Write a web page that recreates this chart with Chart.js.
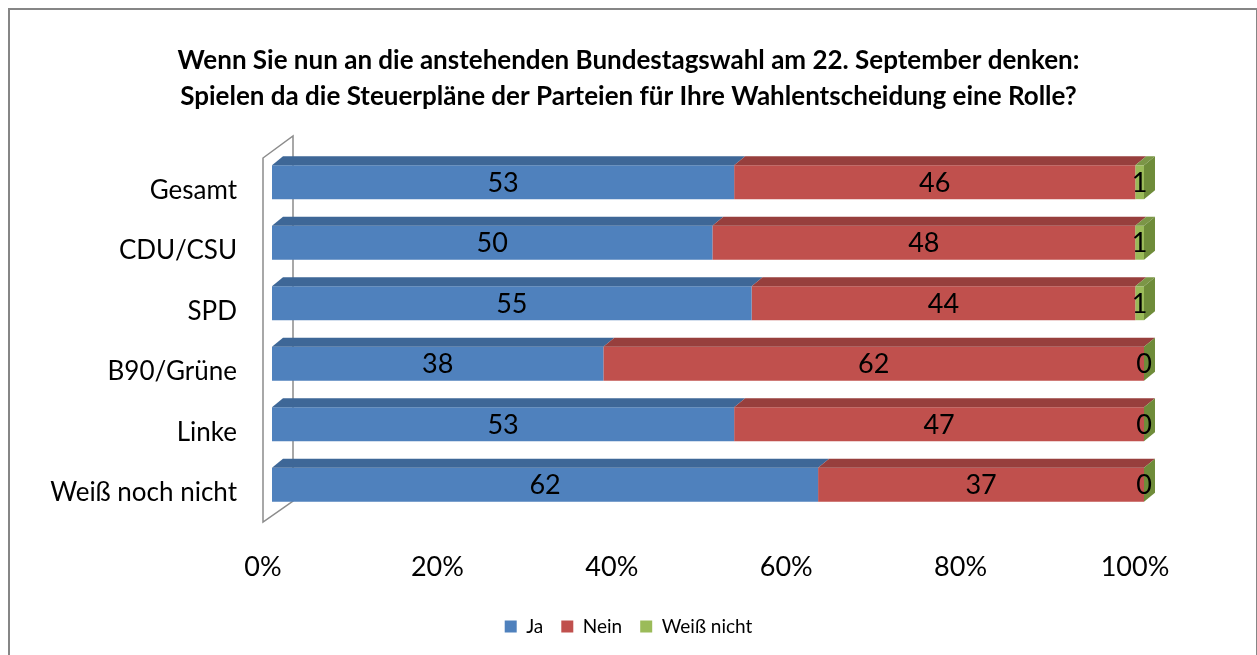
<!DOCTYPE html>
<html>
<head>
<meta charset="utf-8">
<script src="https://cdn.jsdelivr.net/npm/chart.js@4.4.1/dist/chart.umd.min.js"></script>
<style>
    html, body { margin: 0; padding: 0; background: #fff; }
    #wrap { width: 1257px; height: 655px; position: relative; }
</style>
</head>
<body>
<div id="wrap"><canvas id="myChart"></canvas></div>
<script>
const categories = ['Gesamt', 'CDU/CSU', 'SPD', 'B90/Grüne', 'Linke', 'Weiß noch nicht'];
const ja = [53, 50, 55, 38, 53, 62];
const nein = [46, 48, 44, 62, 47, 37];
const weissNicht = [1, 1, 1, 0, 0, 0];
const seriesNames = ['Ja', 'Nein', 'Weiß nicht'];
const xTicks = [0, 20, 40, 60, 80, 100];
const titleLines = [
    'Wenn Sie nun an die anstehenden Bundestagswahl am 22. September denken:',
    'Spielen da die Steuerpläne der Parteien für Ihre Wahlentscheidung eine Rolle?'
];

// 100% stacked: each row scaled to its own total
const totals = categories.map((c, i) => ja[i] + nein[i] + weissNicht[i]);
const share = arr => arr.map((v, i) => v / totals[i] * 100);

const front = ['#4F81BD', '#C0504D', '#9BBB59'];
const topFace = ['#3E6797', '#973F3D', '#7B9646'];
const sideFace = ['#3A5F8C', '#8C3A38', '#6F8C3A'];
const depthX = 11, depthY = 9;

// frame around the chart
const framePlugin = {
    id: 'frame',
    beforeDraw(chart) {
        const ctx = chart.ctx;
        ctx.save();
        ctx.fillStyle = '#fff';
        ctx.fillRect(0, 0, chart.width, chart.height);
        ctx.strokeStyle = '#868686';
        ctx.lineWidth = 2;
        ctx.strokeRect(9, 9, 1248, 660);
        ctx.restore();
    }
};

// the little 3d side wall behind the bars
const wallPlugin = {
    id: 'wall',
    beforeDatasetsDraw(chart) {
        const a = chart.chartArea;
        const ctx = chart.ctx;
        ctx.save();
        ctx.strokeStyle = '#8C8C8C';
        ctx.lineWidth = 1.5;
        ctx.beginPath();
        ctx.moveTo(a.left - 9, a.top + 6);
        ctx.lineTo(a.left + 21, a.top - 16);
        ctx.lineTo(a.left + 21, a.bottom - 14);
        ctx.lineTo(a.left - 9, a.bottom + 7);
        ctx.closePath();
        ctx.stroke();
        ctx.restore();
    }
};

// top faces, end cap and value labels
const barsPlugin = {
    id: 'bars3d',
    afterDatasetsDraw(chart) {
        const ctx = chart.ctx;
        const n = chart.data.datasets.length;
        ctx.save();
        for (let d = 0; d < n; d++) {
            const meta = chart.getDatasetMeta(d);
            meta.data.forEach(bar => {
                const t = bar.y - bar.height / 2;
                ctx.fillStyle = topFace[d];
                ctx.beginPath();
                ctx.moveTo(bar.base, t);
                ctx.lineTo(bar.x, t);
                ctx.lineTo(bar.x + depthX, t - depthY);
                ctx.lineTo(bar.base + depthX, t - depthY);
                ctx.closePath();
                ctx.fill();
                if (d === n - 1) {
                    ctx.fillStyle = sideFace[d];
                    ctx.beginPath();
                    ctx.moveTo(bar.x, t);
                    ctx.lineTo(bar.x + depthX, t - depthY);
                    ctx.lineTo(bar.x + depthX, t - depthY + bar.height);
                    ctx.lineTo(bar.x, t + bar.height);
                    ctx.closePath();
                    ctx.fill();
                }
            });
        }
        ctx.fillStyle = '#000';
        ctx.font = '27px Lato';
        ctx.textAlign = 'center';
        ctx.textBaseline = 'middle';
        const raw = [ja, nein, weissNicht];
        for (let d = 0; d < n; d++) {
            chart.getDatasetMeta(d).data.forEach((bar, i) => {
                ctx.fillText(String(raw[d][i]), (bar.x + bar.base) / 2, bar.y + 1);
            });
        }
        ctx.restore();
    }
};

const ctx = document.getElementById('myChart').getContext('2d');
const myChart = new Chart(ctx, {
    type: 'bar',
    data: {
        labels: categories,
        datasets: [ja, nein, weissNicht].map((arr, i) => ({
            label: seriesNames[i],
            data: share(arr),
            yAxisID: 'y',
            backgroundColor: front[i],
            borderWidth: 0,
            barPercentage: 0.56,
            categoryPercentage: 1
        }))
    },
    options: {
        indexAxis: 'y',
        responsive: true,
        maintainAspectRatio: false,
        animation: false,
        layout: {
            padding: {left: 0, right: 0, top: 10, bottom: 9}
        },
        plugins: {
            title: {
                display: true,
                text: titleLines,
                color: '#000',
                font: {family: 'Lato', size: 26, weight: 'bold', lineHeight: 1.385},
                padding: {top: 33, bottom: 37}
            },
            legend: {
                position: 'bottom',
                labels: {
                    color: '#000',
                    boxWidth: 12,
                    boxHeight: 12,
                    padding: 18,
                    font: {family: 'Lato', size: 19}
                }
            },
            tooltip: {enabled: false}
        },
        scales: {
            x: {
                stacked: true,
                min: 0,
                max: 100,
                grid: {display: false, drawTicks: false},
                border: {display: false},
                afterBuildTicks: scale => {
                    scale.ticks = xTicks.map(v => ({value: v}));
                },
                afterFit: scale => { scale.height = 84; },
                ticks: {
                    color: '#000',
                    padding: 36,
                    labelOffset: -9,
                    maxRotation: 0,
                    font: {family: 'Lato', size: 27},
                    callback: v => v + '%'
                }
            },
            y: {
                stacked: true,
                grid: {display: false, drawTicks: false},
                border: {display: false},
                afterFit: scale => { scale.width = 272; },
                ticks: {
                    color: '#000',
                    padding: 35,
                    labelOffset: 8,
                    font: {family: 'Lato', size: 26}
                }
            },
            // empty right axis, only keeps room on the right
            y2: {
                type: 'category',
                position: 'right',
                grid: {display: false, drawTicks: false},
                border: {display: false},
                ticks: {display: false},
                afterFit: scale => { scale.width = 113; }
            }
        }
    },
    plugins: [framePlugin, wallPlugin, barsPlugin]
});
</script>
</body>
</html>
